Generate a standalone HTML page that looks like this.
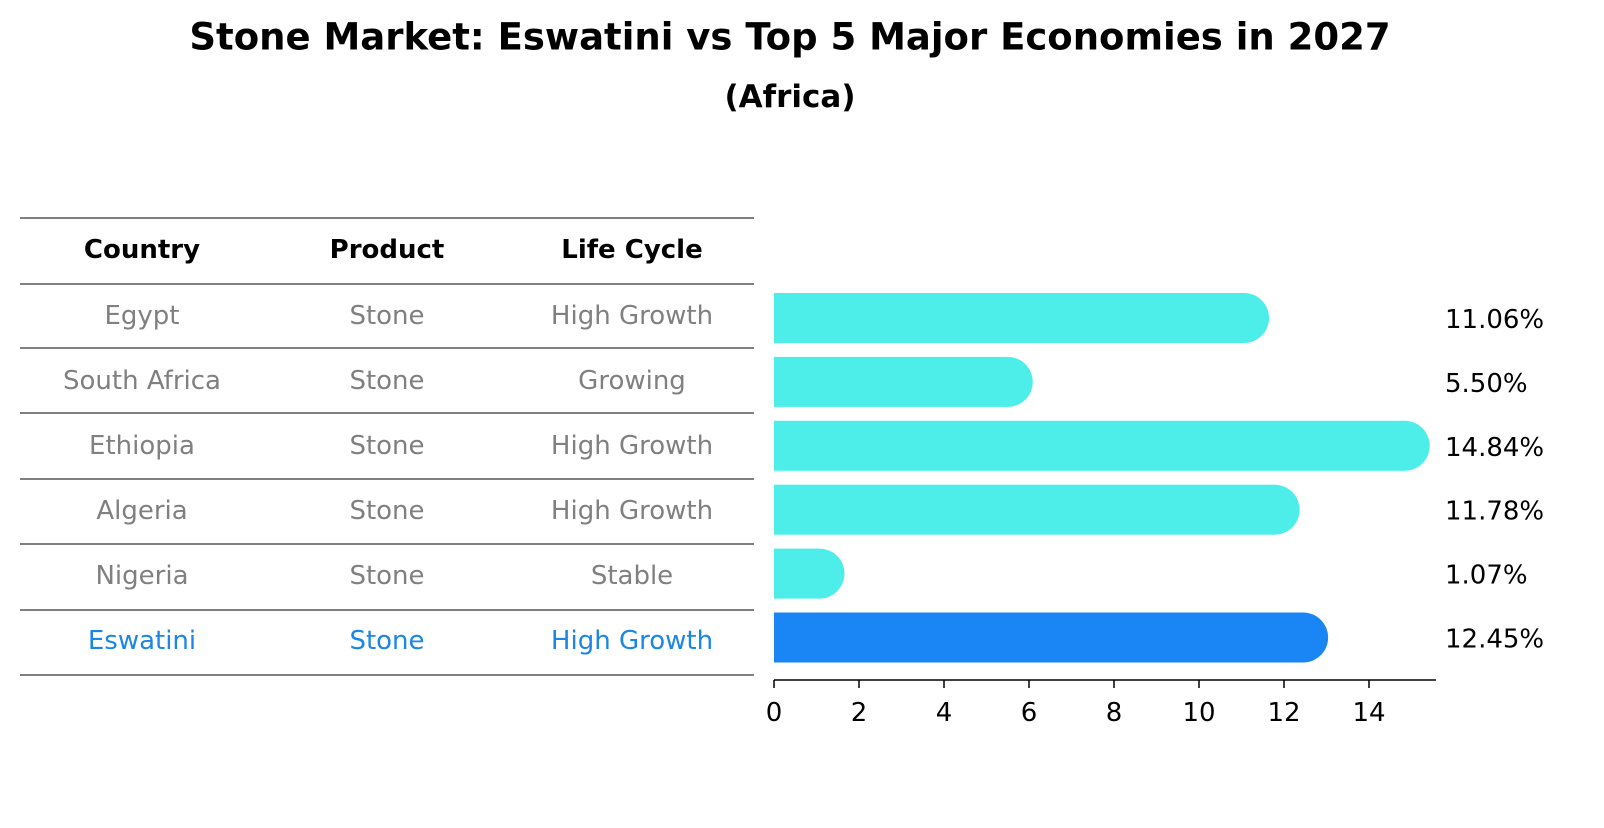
<!DOCTYPE html>
<html><head><meta charset="utf-8"><style>
body{margin:0;background:#fff;font-family:"Liberation Sans","DejaVu Sans",sans-serif;}
svg text{font-family:"DejaVu Sans","Liberation Sans",sans-serif;}
</style></head><body>
<svg id="c" width="1604" height="823" xmlns="http://www.w3.org/2000/svg">
<text x="790" y="37" text-anchor="middle" dominant-baseline="central" font-size="37" font-weight="bold">Stone Market: Eswatini vs Top 5 Major Economies in 2027</text>
<text x="790" y="97" text-anchor="middle" dominant-baseline="central" font-size="31" font-weight="bold">(Africa)</text>
<g id="table"></g>
<g id="bars"></g>
</svg>
<script>
const countries=["Egypt","South Africa","Ethiopia","Algeria","Nigeria","Eswatini"];
const products=["Stone","Stone","Stone","Stone","Stone","Stone"];
const lifecycles=["High Growth","Growing","High Growth","High Growth","Stable","High Growth"];
const values=[11.06,5.50,14.84,11.78,1.07,12.45];
const ticks=[0,2,4,6,8,10,12,14];
const NS="http://www.w3.org/2000/svg";
const tbl=document.getElementById('table');
const bars=document.getElementById('bars');
function mk(tag,attrs,parent){const e=document.createElementNS(NS,tag);for(const k in attrs)e.setAttribute(k,attrs[k]);parent.appendChild(e);return e;}
const x0=774, pxPer=42.5;
const xs=v=>x0+v*pxPer;
const rowY=i=>318+i*63.9;
const lineYs=[218,284];
for(let i=0;i<countries.length;i++) lineYs.push(Math.round(348+i*65.4));
lineYs.forEach(y=>{const l=mk('line',{x1:20,x2:754,y1:y,y2:y,stroke:'#000','stroke-width':1},tbl);

});
const colX=[142,387,632];
["Country","Product","Life Cycle"].forEach((h,j)=>{const t=mk('text',{x:colX[j],y:250,'text-anchor':'middle','dominant-baseline':'central','font-size':26,'font-weight':'bold'},tbl);t.textContent=h;

});
countries.forEach((c,i)=>{
 const y=316+i*65;
 const col=c==="Eswatini"?"#1a86e8":"#808080";
 [c,products[i],lifecycles[i]].forEach((s,j)=>{const t=mk('text',{x:colX[j],y:y,'text-anchor':'middle','dominant-baseline':'central','font-size':26,fill:col},tbl);t.textContent=s;
 
 });
});
values.forEach((v,i)=>{
 const cy=rowY(i), h=50, r=25;
 const col=countries[i]==="Eswatini"?"#1a86f5":"#4deeea";
 const g=mk('g',{},bars);
 
 
 mk('rect',{x:x0,y:cy-h/2,width:xs(v)-x0,height:h,fill:col},g);
 mk('circle',{cx:xs(v),cy:cy,r:r,fill:col},g);
 const t=mk('text',{x:1445,y:cy+2,'dominant-baseline':'central','font-size':26},bars);t.textContent=v.toFixed(2)+'%';
 
 
});
const ax=mk('line',{x1:x0,x2:1436,y1:680,y2:680,stroke:'#000','stroke-width':1.5},bars);


ticks.forEach(v=>{
 const tl=mk('line',{x1:xs(v),x2:xs(v),y1:680,y2:688,stroke:'#000','stroke-width':1.5},bars);
 
 
 const t=mk('text',{x:xs(v),y:713,'text-anchor':'middle','dominant-baseline':'central','font-size':26},bars);t.textContent=v;
 
 
});
</script>
</body></html>
